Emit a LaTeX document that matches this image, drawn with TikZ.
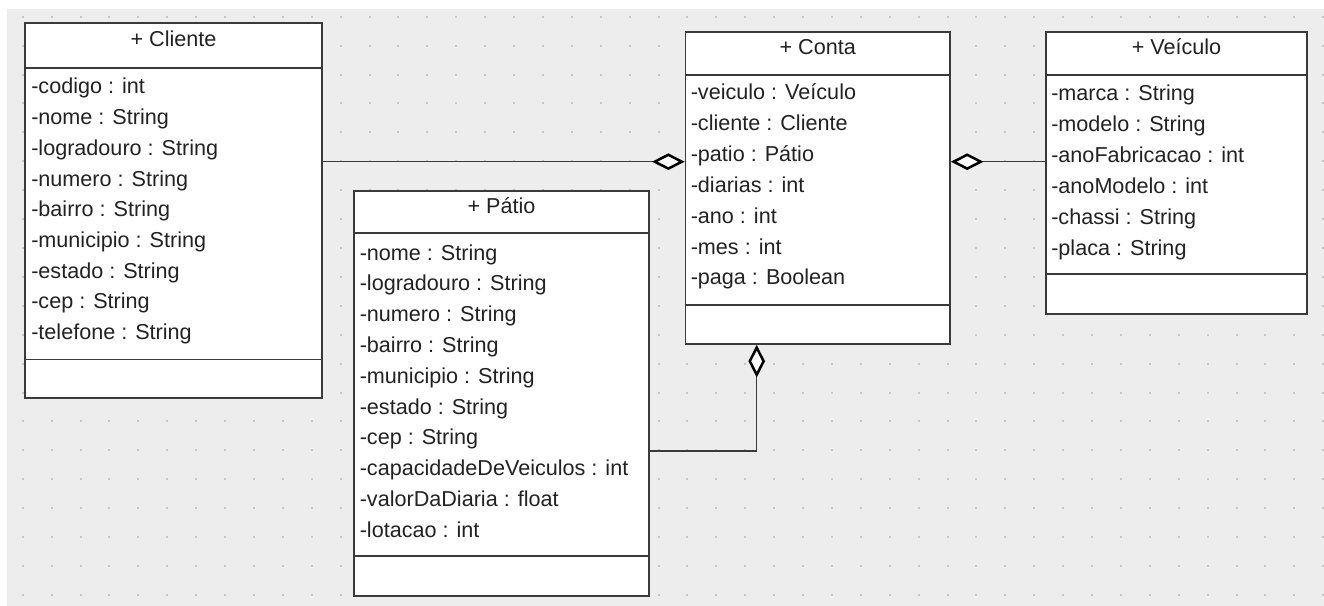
\documentclass[tikz,border=0pt]{standalone}
\usepackage{fontspec}
\setmainfont{Liberation Sans}
\usepackage{tikz}
\usetikzlibrary{arrows.meta, fit, shadows}

\definecolor{canvas}{HTML}{EDEDED}
\definecolor{griddot}{HTML}{C6C6C6}
\definecolor{umlline}{HTML}{3A3A3A}
\definecolor{umltext}{HTML}{222222}
\newcommand{\umlfont}{\fontsize{16.2}{19}\selectfont}

\begin{document}
\begin{tikzpicture}[x=0.75pt, y=-0.75pt]
          \tikzstyle{classbox}=[draw=umlline, line width=1.3pt, fill=white, inner sep=0pt,
                                drop shadow={shadow xshift=0.9pt, shadow yshift=-0.9pt, fill=black!45, opacity=.5}]
          \tikzstyle{divider}=[draw=umlline, line width=1.3pt]
          \tikzstyle{title}=[anchor=base, inner sep=0pt, text=umltext, font=\umlfont]
          \tikzstyle{attr}=[anchor=base west, inner sep=0pt, text=umltext, font=\umlfont]
          \tikzstyle{agg}=[draw=umlline, line width=1.1pt,
                           -{Diamond[length=24.5pt, width=12.5pt, fill=white, color=black, line width=1.9pt]}]
          \useasboundingbox (0,0) rectangle (1324,606);
          % canvas with dotted grid
          \fill[canvas] (7,9) rectangle (1324,606);
          \foreach \i in {0,...,45}{
            \foreach \j in {0,...,20}{
              \fill[griddot] (21.7+28.9*\i, 15.8+28.9*\j) rectangle +(2,2);
            }
          }
          % classes
          \node[classbox, fit={(25,23.3) (322,398)}] (cliente) {};
          \node[classbox, fit={(685.5,32) (950,344)}] (conta) {};
          \node[classbox, fit={(354,191) (649,596)}] (patio) {};
          \node[classbox, fit={(1046,32) (1307,314)}] (veiculo) {};
          \draw[divider] (cliente.west |- 0,67.7) -- (cliente.east |- 0,67.7);
          \draw[divider] (cliente.west |- 0,359.5) -- (cliente.east |- 0,359.5);
          \draw[divider] (conta.west |- 0,75) -- (conta.east |- 0,75);
          \draw[divider] (conta.west |- 0,305) -- (conta.east |- 0,305);
          \draw[divider] (patio.west |- 0,233) -- (patio.east |- 0,233);
          \draw[divider] (patio.west |- 0,556) -- (patio.east |- 0,556);
          \draw[divider] (veiculo.west |- 0,75) -- (veiculo.east |- 0,75);
          \draw[divider] (veiculo.west |- 0,274) -- (veiculo.east |- 0,274);
          \node[title] (cliente-t) at (cliente.north |- 0,46.7) {+ Cliente};
          \node[title] (conta-t) at (conta.north |- 0,55) {+ Conta};
          \node[title] (patio-t) at (patio.north |- 0,214) {+ Pátio};
          \node[title] (veiculo-t) at (veiculo.north |- 0,55) {+ Veículo};
          \foreach \a [count=\i] in {-codigo : int, -nome : String, -logradouro : String,
              -numero : String, -bairro : String, -municipio : String, -estado : String,
              -cep : String, -telefone : String}{
            \node[attr] (cliente-\i) at (31, 94+30.7*\i-30.7) {\a};
          }
          \foreach \a [count=\i] in {-veiculo : Veículo, -cliente : Cliente, -patio : Pátio,
              -diarias : int, -ano : int, -mes : int, -paga : Boolean}{
            \node[attr] (conta-\i) at (690.5, 100+30.8*\i-30.8) {\a};
          }
          \foreach \a [count=\i] in {-nome : String, -logradouro : String, -numero : String,
              -bairro : String, -municipio : String, -estado : String, -cep : String,
              -capacidadeDeVeiculos : int, -valorDaDiaria : float, -lotacao : int}{
            \node[attr] (patio-\i) at (359.5, 260+30.8*\i-30.8) {\a};
          }
          \foreach \a [count=\i] in {-marca : String, -modelo : String, -anoFabricacao : int,
              -anoModelo : int, -chassi : String, -placa : String}{
            \node[attr] (veiculo-\i) at (1051, 101+30.8*\i-30.8) {\a};
          }
          % aggregations
          \draw[agg] (cliente.east |- 0,161.7) -- (conta.west |- 0,161.7);
          \draw[agg] (veiculo.west |- 0,161.7) -- (conta.east |- 0,161.7);
          \draw[agg] (patio.east |- 0,451) -| (conta.south -| 756.7,0);
        \end{tikzpicture}
\end{document}
